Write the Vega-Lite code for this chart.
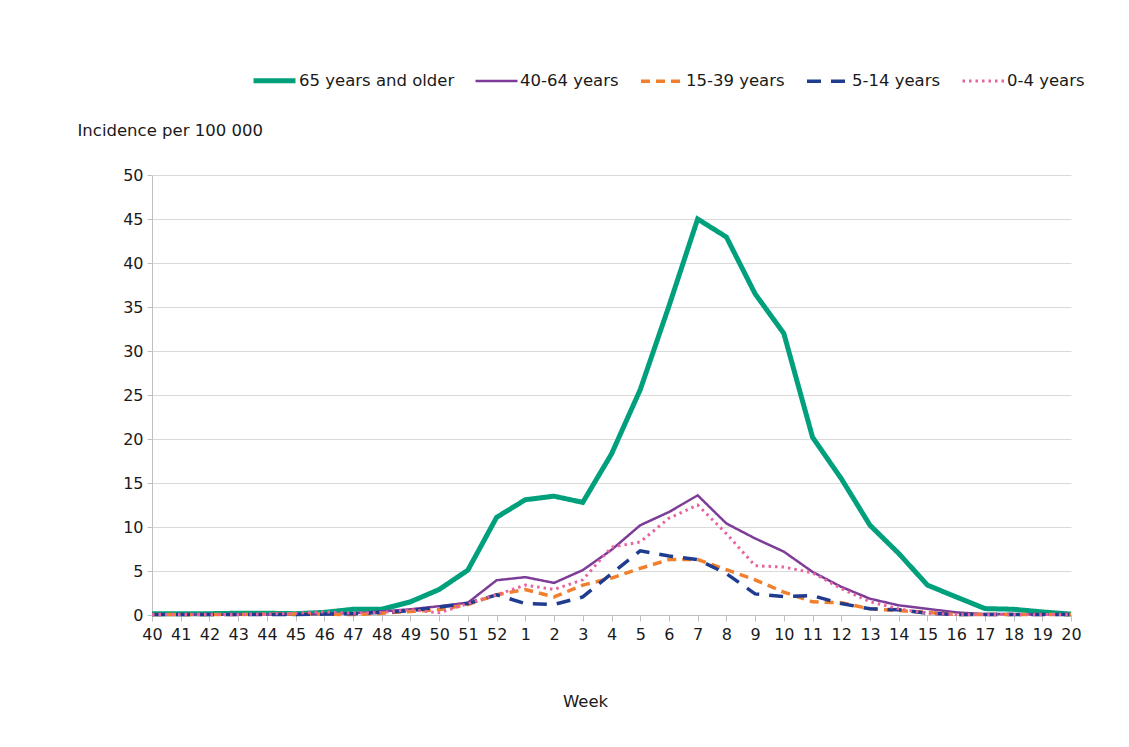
{
  "$schema": "https://vega.github.io/schema/vega-lite/v6.json",
  "autosize": {"type": "none"},
  "width": 919,
  "height": 440,
  "padding": {"left": 152, "top": 175, "right": 58, "bottom": 132},
  "background": "white",
  "config": {
    "view": {"stroke": null},
    "font": "DejaVu Sans",
    "axis": {"labelFont": "DejaVu Sans", "titleFont": "DejaVu Sans", "labelFontSize": 16, "titleFontSize": 16.5, "labelColor": "#1a1a1a", "titleColor": "#1a1a1a", "titleFontWeight": "normal", "domainColor": "#bfbfbf", "tickColor": "#bfbfbf", "gridColor": "#d9d9d9"},
    "legend": {"labelFont": "DejaVu Sans", "labelFontSize": 16.5, "labelColor": "#1a1a1a"}
  },
  "data": {"values": [
    {"week": "40", "65 years and older": 0.15, "40-64 years": 0.05, "15-39 years": 0.05, "5-14 years": 0.05, "0-4 years": 0.05},
    {"week": "41", "65 years and older": 0.15, "40-64 years": 0.05, "15-39 years": 0.05, "5-14 years": 0.05, "0-4 years": 0.05},
    {"week": "42", "65 years and older": 0.15, "40-64 years": 0.05, "15-39 years": 0.05, "5-14 years": 0.05, "0-4 years": 0.05},
    {"week": "43", "65 years and older": 0.2, "40-64 years": 0.05, "15-39 years": 0.05, "5-14 years": 0.05, "0-4 years": 0.05},
    {"week": "44", "65 years and older": 0.2, "40-64 years": 0.05, "15-39 years": 0.1, "5-14 years": 0.05, "0-4 years": 0.1},
    {"week": "45", "65 years and older": 0.15, "40-64 years": 0.05, "15-39 years": 0.1, "5-14 years": 0.05, "0-4 years": 0.2},
    {"week": "46", "65 years and older": 0.3, "40-64 years": 0.1, "15-39 years": 0.1, "5-14 years": 0.1, "0-4 years": 0.35},
    {"week": "47", "65 years and older": 0.65, "40-64 years": 0.2, "15-39 years": 0.05, "5-14 years": 0.15, "0-4 years": 0.2},
    {"week": "48", "65 years and older": 0.65, "40-64 years": 0.4, "15-39 years": 0.2, "5-14 years": 0.3, "0-4 years": 0.3},
    {"week": "49", "65 years and older": 1.5, "40-64 years": 0.65, "15-39 years": 0.4, "5-14 years": 0.5, "0-4 years": 0.6},
    {"week": "50", "65 years and older": 2.9, "40-64 years": 1.0, "15-39 years": 0.6, "5-14 years": 0.9, "0-4 years": 0.25},
    {"week": "51", "65 years and older": 5.1, "40-64 years": 1.4, "15-39 years": 1.2, "5-14 years": 1.3, "0-4 years": 1.3},
    {"week": "52", "65 years and older": 11.1, "40-64 years": 3.95, "15-39 years": 2.3, "5-14 years": 2.3, "0-4 years": 2.3},
    {"week": "1", "65 years and older": 13.1, "40-64 years": 4.3, "15-39 years": 2.9, "5-14 years": 1.3, "0-4 years": 3.4},
    {"week": "2", "65 years and older": 13.5, "40-64 years": 3.65, "15-39 years": 2.05, "5-14 years": 1.2, "0-4 years": 2.9},
    {"week": "3", "65 years and older": 12.8, "40-64 years": 5.1, "15-39 years": 3.4, "5-14 years": 2.05, "0-4 years": 4.0},
    {"week": "4", "65 years and older": 18.3, "40-64 years": 7.4, "15-39 years": 4.2, "5-14 years": 4.7, "0-4 years": 7.7},
    {"week": "5", "65 years and older": 25.6, "40-64 years": 10.2, "15-39 years": 5.3, "5-14 years": 7.3, "0-4 years": 8.3},
    {"week": "6", "65 years and older": 35.1, "40-64 years": 11.7, "15-39 years": 6.3, "5-14 years": 6.7, "0-4 years": 11.0},
    {"week": "7", "65 years and older": 45.0, "40-64 years": 13.6, "15-39 years": 6.3, "5-14 years": 6.3, "0-4 years": 12.5},
    {"week": "8", "65 years and older": 42.95, "40-64 years": 10.4, "15-39 years": 5.15, "5-14 years": 4.7, "0-4 years": 9.25},
    {"week": "9", "65 years and older": 36.5, "40-64 years": 8.7, "15-39 years": 4.0, "5-14 years": 2.4, "0-4 years": 5.6},
    {"week": "10", "65 years and older": 32.0, "40-64 years": 7.2, "15-39 years": 2.6, "5-14 years": 2.1, "0-4 years": 5.45},
    {"week": "11", "65 years and older": 20.2, "40-64 years": 4.9, "15-39 years": 1.5, "5-14 years": 2.2, "0-4 years": 4.8},
    {"week": "12", "65 years and older": 15.5, "40-64 years": 3.2, "15-39 years": 1.4, "5-14 years": 1.3, "0-4 years": 3.0},
    {"week": "13", "65 years and older": 10.2, "40-64 years": 1.85, "15-39 years": 0.7, "5-14 years": 0.7, "0-4 years": 1.5},
    {"week": "14", "65 years and older": 7.0, "40-64 years": 1.1, "15-39 years": 0.5, "5-14 years": 0.6, "0-4 years": 0.7},
    {"week": "15", "65 years and older": 3.4, "40-64 years": 0.7, "15-39 years": 0.3, "5-14 years": 0.2, "0-4 years": 0.2},
    {"week": "16", "65 years and older": 2.05, "40-64 years": 0.3, "15-39 years": 0.05, "5-14 years": 0.05, "0-4 years": 0.05},
    {"week": "17", "65 years and older": 0.73, "40-64 years": 0.1, "15-39 years": 0.05, "5-14 years": 0.05, "0-4 years": 0.05},
    {"week": "18", "65 years and older": 0.65, "40-64 years": 0.1, "15-39 years": 0.05, "5-14 years": 0.05, "0-4 years": 0.05},
    {"week": "19", "65 years and older": 0.35, "40-64 years": 0.05, "15-39 years": 0.05, "5-14 years": 0.05, "0-4 years": 0.05},
    {"week": "20", "65 years and older": 0.1, "40-64 years": 0.05, "15-39 years": 0.05, "5-14 years": 0.05, "0-4 years": 0.05}
  ]},
  "transform": [
    {"fold": ["65 years and older", "40-64 years", "15-39 years", "5-14 years", "0-4 years"], "as": ["group", "value"]}
  ],
  "mark": {"type": "line", "strokeCap": "butt", "strokeJoin": "miter"},
  "encoding": {
    "x": {
      "field": "week", "type": "ordinal",
      "sort": ["40","41","42","43","44","45","46","47","48","49","50","51","52","1","2","3","4","5","6","7","8","9","10","11","12","13","14","15","16","17","18","19","20"],
      "scale": {"type": "point", "padding": 0},
      "axis": {"title": "Week", "labelAngle": 0, "labelPadding": 5, "tickSize": 6, "grid": false, "titleX": 433, "titleY": 86, "titleAnchor": "middle", "titleAlign": "center", "titleBaseline": "middle"}
    },
    "y": {
      "field": "value", "type": "quantitative",
      "scale": {"domain": [0, 50], "nice": false},
      "axis": {"title": "Incidence per 100 000", "values": [0,5,10,15,20,25,30,35,40,45,50], "tickSize": 5, "labelPadding": 4, "grid": true, "titleAngle": 0, "titleX": -75, "titleY": -45, "titleAlign": "left", "titleBaseline": "middle", "titleAnchor": null}
    },
    "color": {
      "field": "group", "type": "nominal",
      "scale": {"domain": ["65 years and older", "40-64 years", "15-39 years", "5-14 years", "0-4 years"], "range": ["#00a07c", "#7d3c98", "#f07f2e", "#1f3c8f", "#e8639f"]},
      "legend": {"title": null, "orient": "none", "direction": "horizontal", "legendX": 99, "legendY": -118, "symbolType": "stroke", "symbolSize": 1764, "labelOffset": 1, "columnPadding": 15}
    },
    "strokeDash": {
      "field": "group", "type": "nominal",
      "scale": {"type": "ordinal", "domain": ["65 years and older", "40-64 years", "15-39 years", "5-14 years", "0-4 years"], "range": [[1, 0], [1, 0], [9, 6], [14, 10], [2.5, 4]]},
      "legend": {"title": null, "orient": "none", "direction": "horizontal", "legendX": 99, "legendY": -118, "symbolType": "stroke", "symbolSize": 1764, "labelOffset": 1, "columnPadding": 15}
    },
    "strokeWidth": {
      "field": "group", "type": "nominal",
      "scale": {"type": "ordinal", "domain": ["65 years and older", "40-64 years", "15-39 years", "5-14 years", "0-4 years"], "range": [5, 2.5, 3.5, 3.5, 3]},
      "legend": {"title": null, "orient": "none", "direction": "horizontal", "legendX": 99, "legendY": -118, "symbolType": "stroke", "symbolSize": 1764, "labelOffset": 1, "columnPadding": 15}
    },
    "order": {"value": null}
  }
}
